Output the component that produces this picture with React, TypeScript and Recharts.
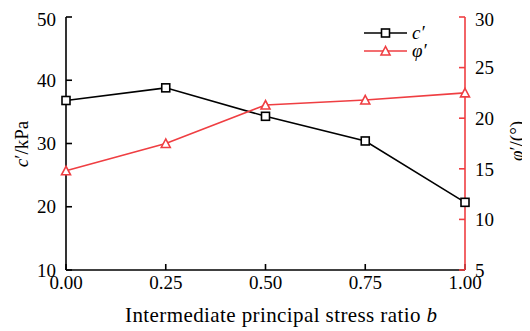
import React from "react";
import { LineChart, Line, XAxis, YAxis, Customized } from "recharts";

// Intermediate principal stress ratio b
const bValues = [0, 0.25, 0.5, 0.75, 1.0];
// Effective cohesion c′ (kPa)
const cohesion = [36.8, 38.8, 34.3, 30.4, 20.7];
// Effective friction angle φ′ (°)
const friction = [14.8, 17.5, 21.3, 21.8, 22.5];

const xTicks = [0, 0.25, 0.5, 0.75, 1.0];
const leftTicks = [10, 20, 30, 40, 50];
const rightTicks = [5, 10, 15, 20, 25, 30];

const data = bValues.map((b, i) => ({ b, c: cohesion[i], phi: friction[i] }));

const RED = "#ef3e42";
const FONT = "'Liberation Serif', 'Times New Roman', serif";
const FS = 19;

const SquareDot = (props: any) => {
  const { cx, cy } = props;
  if (cx == null || cy == null) return null;
  const s = 8;
  return (
    <rect x={cx - s / 2} y={cy - s / 2} width={s} height={s} fill="#fff" stroke="#000" strokeWidth={1.6} />
  );
};

const TriangleDot = (props: any) => {
  const { cx, cy } = props;
  if (cx == null || cy == null) return null;
  const w = 9;
  const h = 8;
  const pts = `${cx},${cy - h / 2 - 0.5} ${cx - w / 2},${cy + h / 2} ${cx + w / 2},${cy + h / 2}`;
  return <polygon points={pts} fill="#fff" stroke={RED} strokeWidth={1.6} />;
};

const LegendBox = () => {
  const x0 = 356;
  const x1 = 399;
  const mid = (x0 + x1) / 2;
  const r1 = 25;
  const r2 = 43;
  return (
    <g>
      <line x1={x0} x2={x1} y1={r1} y2={r1} stroke="#000" strokeWidth={1.6} />
      <SquareDot cx={mid} cy={r1} />
      <text x={x1 + 5} y={r1 + 6} fontFamily={FONT} fontSize={FS} fontStyle="italic" fill="#000">c′</text>
      <line x1={x0} x2={x1} y1={r2} y2={r2} stroke={RED} strokeWidth={1.6} />
      <TriangleDot cx={mid} cy={r2} />
      <text x={x1 + 5} y={r2 + 6} fontFamily={FONT} fontSize={FS} fontStyle="italic" fill="#000">φ′</text>
    </g>
  );
};

const AxisTitles = () => (
  <g fontFamily={FONT} fill="#000">
    <text x={273} y={314} textAnchor="middle" fontSize={21} textLength={312} lengthAdjust="spacing">
      Intermediate principal stress ratio <tspan fontStyle="italic">b</tspan>
    </text>
    <text x={20} y={136} fontSize={FS} textAnchor="middle" transform="rotate(-90, 20, 136)">
      <tspan fontStyle="italic">c</tspan>′/kPa
    </text>
    <text x={515} y={133} fontSize={FS} textAnchor="middle" transform="rotate(-90, 515, 133)">
      <tspan fontStyle="italic">φ</tspan>′/(°)
    </text>
  </g>
);

export default function App() {
  const tickStyle = { fill: "#000", fontSize: FS, fontFamily: FONT };
  return (
    <div style={{ width: 522, height: 323 }}>
      <LineChart width={522} height={323} data={data} margin={{ top: 9, right: 0, bottom: 0, left: 0 }}>
        <XAxis
          type="number"
          dataKey="b"
          domain={[0, 1]}
          ticks={xTicks}
          tickFormatter={(v: number) => v.toFixed(2)}
          height={61}
          tick={tickStyle}
          tickSize={-6}
          tickMargin={12}
          axisLine={{ stroke: "#000", strokeWidth: 1.6 }}
          tickLine={{ stroke: "#000", strokeWidth: 1.6 }}
        />
        <YAxis
          yAxisId="left"
          orientation="left"
          domain={[10, 50]}
          ticks={leftTicks}
          width={58}
          tick={tickStyle}
          tickSize={-6}
          tickMargin={16}
          axisLine={{ stroke: "#000", strokeWidth: 1.6 }}
          tickLine={{ stroke: "#000", strokeWidth: 1.6 }}
        />
        <YAxis
          yAxisId="right"
          orientation="right"
          domain={[5, 30]}
          ticks={rightTicks}
          width={65}
          tick={tickStyle}
          tickSize={-6}
          tickMargin={16}
          axisLine={{ stroke: RED, strokeWidth: 1.6 }}
          tickLine={{ stroke: RED, strokeWidth: 1.6 }}
        />
        <Line
          yAxisId="left"
          dataKey="c"
          stroke="#000"
          strokeWidth={1.6}
          dot={<SquareDot />}
          isAnimationActive={false}
        />
        <Line
          yAxisId="right"
          dataKey="phi"
          stroke={RED}
          strokeWidth={1.6}
          dot={<TriangleDot />}
          isAnimationActive={false}
        />
        <Customized component={<LegendBox />} />
        <Customized component={<AxisTitles />} />
      </LineChart>
    </div>
  );
}
